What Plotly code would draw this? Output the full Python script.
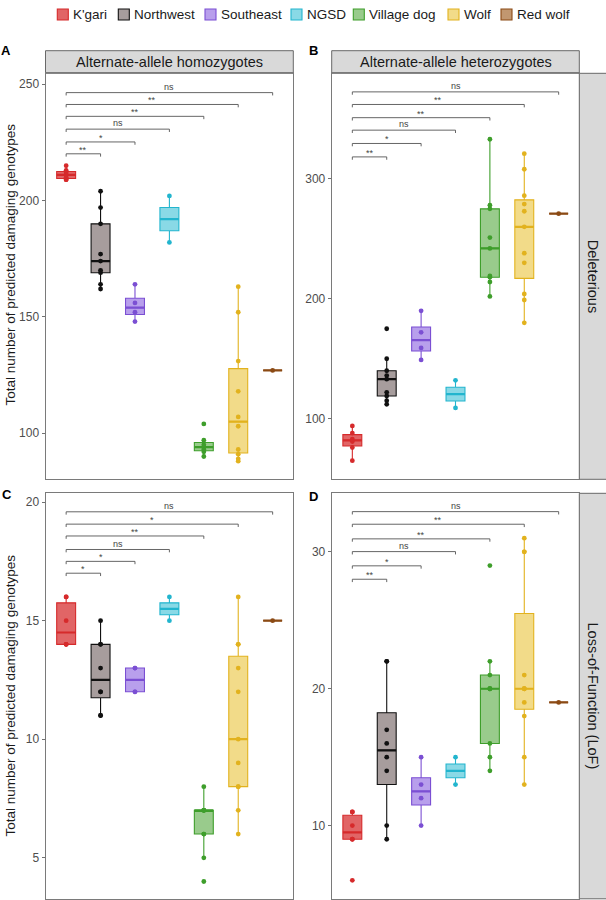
import numpy as np
import plotly.graph_objects as go

# ---------------- data ----------------
groups = ["K'gari", "Northwest", "Southeast", "NGSD", "Village dog", "Wolf", "Red wolf"]

# Panel A: alternate-allele homozygotes, deleterious
hom_del_kgari = [209, 209, 210, 211, 212, 213, 215]
hom_del_northwest = [162, 164, 169, 170, 174, 177, 190, 197, 204]
hom_del_southeast = [148, 152, 156, 164]
hom_del_ngsd = [182, 202]
hom_del_village = [90, 92, 93, 94, 95, 97, 104]
hom_del_wolf = [88, 89, 91, 93, 103, 107, 118, 131, 152, 163]
hom_del_redwolf = [127]

# Panel B: alternate-allele heterozygotes, deleterious
het_del_kgari = [65, 76, 81, 83, 88, 94]
het_del_northwest = [112, 115, 119, 122, 133, 136, 140, 150, 175]
het_del_southeast = [149, 159, 172, 190]
het_del_ngsd = [109, 132]
het_del_village = [202, 214, 218, 219, 242, 251, 275, 278, 333]
het_del_wolf = [180, 199, 204, 230, 238, 260, 273, 279, 286, 308, 321]
het_del_redwolf = [271]

# Panel C: alternate-allele homozygotes, LoF
hom_lof_kgari = [14, 14, 14, 15, 16, 16]
hom_lof_northwest = [11, 11, 12, 12, 13, 14, 14, 15]
hom_lof_southeast = [12, 12, 13, 13]
hom_lof_ngsd = [15, 16]
hom_lof_village = [4, 5, 6, 6, 7, 7, 7, 7, 8]
hom_lof_wolf = [6, 7, 8, 8, 9, 10, 12, 13, 14, 14, 16]
hom_lof_redwolf = [15]

# Panel D: alternate-allele heterozygotes, LoF
het_lof_kgari = [6, 9, 9, 10, 11, 11]
het_lof_northwest = [9, 10, 14, 15, 16, 17, 22, 22]
het_lof_southeast = [10, 12, 13, 15]
het_lof_ngsd = [13, 15]
het_lof_village = [14, 15, 16, 20, 20, 20, 21, 22, 29]
het_lof_wolf = [13, 15, 18, 19, 20, 20, 20, 21, 30, 30, 31]
het_lof_redwolf = [19]

# significance brackets (K'gari vs each other group)
sig_labels_A = ["**", "*", "ns", "**", "**", "ns"]
sig_labels_B = ["**", "*", "ns", "**", "**", "ns"]
sig_labels_C = ["*", "*", "ns", "**", "*", "ns"]
sig_labels_D = ["**", "*", "ns", "**", "**", "ns"]
bracket_y_A = [220.1, 225.2, 230.7, 236.2, 241.3, 246.4]
bracket_y_B = [318.3, 329.5, 340.6, 351.0, 362.0, 372.5]
bracket_y_C = [17.0, 17.5, 18.0, 18.57, 19.07, 19.59]
bracket_y_D = [28.0, 28.98, 30.02, 30.95, 32.02, 32.94]

col_strip_labels = ["Alternate-allele homozygotes", "Alternate-allele heterozygotes"]
row_strip_labels = ["Deleterious", "Loss-of-Function (LoF)"]
y_title = "Total number of predicted damaging genotypes"
panel_letters = ["A", "B", "C", "D"]

ticks_A = [100, 150, 200, 250]
ticks_B = [100, 200, 300]
ticks_C = [5, 10, 15, 20]
ticks_D = [10, 20, 30]

# ---------------- styles ----------------
line_colors = ["#D62A2B", "#111111", "#7B4FD3", "#22B5CE", "#3E9E2B", "#E2B21E", "#8B4A14"]
fill_colors = ["rgba(214,42,43,0.72)", "rgba(125,110,110,0.68)", "rgba(140,100,225,0.62)",
               "rgba(40,185,210,0.55)", "rgba(70,160,45,0.55)", "rgba(232,190,40,0.55)",
               "rgba(160,95,35,0.65)"]
FONT = "Liberation Sans, Arial, sans-serif"
W, H = 606, 900

panels = [
    dict(data=[hom_del_kgari, hom_del_northwest, hom_del_southeast, hom_del_ngsd, hom_del_village, hom_del_wolf, hom_del_redwolf],
         yr=[80.2, 254.7], ticks=ticks_A, br=bracket_y_A, lab=sig_labels_A),
    dict(data=[het_del_kgari, het_del_northwest, het_del_southeast, het_del_ngsd, het_del_village, het_del_wolf, het_del_redwolf],
         yr=[49.5, 388.0], ticks=ticks_B, br=bracket_y_B, lab=sig_labels_B),
    dict(data=[hom_lof_kgari, hom_lof_northwest, hom_lof_southeast, hom_lof_ngsd, hom_lof_village, hom_lof_wolf, hom_lof_redwolf],
         yr=[3.27, 20.37], ticks=ticks_C, br=bracket_y_C, lab=sig_labels_C),
    dict(data=[het_lof_kgari, het_lof_northwest, het_lof_southeast, het_lof_ngsd, het_lof_village, het_lof_wolf, het_lof_redwolf],
         yr=[4.65, 34.28], ticks=ticks_D, br=bracket_y_D, lab=sig_labels_D),
]

xL = [45.5 / W, 293.3 / W]
xR = [331.7 / W, 579.3 / W]
yT = [1 - 479.3 / H, 1 - 73.3 / H]
yB = [1 - 898.8 / H, 1 - 493.3 / H]
domains = [(xL, yT), (xR, yT), (xL, yB), (xR, yB)]

BOXW = 0.55

fig = go.Figure()
layout = dict(width=W, height=H, margin=dict(l=0, r=0, t=0, b=0),
              paper_bgcolor="white", plot_bgcolor="white", showlegend=False,
              font=dict(family=FONT, color="#1a1a1a"))
shapes = []
annotations = []


def ann(**kw):
    kw.setdefault("showarrow", False)
    kw.setdefault("xanchor", "center")
    kw.setdefault("yanchor", "middle")
    annotations.append(kw)


for p_i, p in enumerate(panels):
    sfx = "" if p_i == 0 else str(p_i + 1)
    xa, ya = "x" + sfx, "y" + sfx
    dx, dy = domains[p_i]
    span = p["yr"][1] - p["yr"][0]
    layout["xaxis" + sfx] = dict(domain=dx, anchor=ya, range=[-0.6, 6.6], showticklabels=False,
                                 ticks="", showgrid=False, zeroline=False, showline=True, mirror=True,
                                 linecolor="#7a7a7a", linewidth=1)
    layout["yaxis" + sfx] = dict(domain=dy, anchor=xa, range=p["yr"], tickvals=p["ticks"],
                                 ticks="outside", ticklen=3, tickcolor="#4d4d4d", tickwidth=0.8,
                                 tickfont=dict(size=12, color="#4d4d4d", family=FONT),
                                 showgrid=False, zeroline=False, showline=True, mirror=True,
                                 linecolor="#7a7a7a", linewidth=1)
    for g_i, vals in enumerate(p["data"]):
        v = np.array(vals, dtype=float)
        q1, med, q3 = np.percentile(v, [25, 50, 75])
        iqr = q3 - q1
        lo = v[v >= q1 - 1.5 * iqr].min()
        hi = v[v <= q3 + 1.5 * iqr].max()
        fig.add_trace(go.Box(x=[g_i], q1=[q1], median=[med], q3=[q3], lowerfence=[lo], upperfence=[hi],
                             width=BOXW, whiskerwidth=0, boxpoints=False,
                             fillcolor=fill_colors[g_i], line=dict(color=line_colors[g_i], width=1.1),
                             xaxis=xa, yaxis=ya, name=groups[g_i], hoverinfo="skip"))
        fig.add_trace(go.Scatter(x=[g_i - BOXW / 2, g_i + BOXW / 2], y=[med, med], mode="lines",
                                 line=dict(color=line_colors[g_i], width=2.2), xaxis=xa, yaxis=ya,
                                 hoverinfo="skip"))
        fig.add_trace(go.Scatter(x=[g_i] * len(v), y=v, mode="markers",
                                 marker=dict(color=line_colors[g_i], size=4.8), xaxis=xa, yaxis=ya,
                                 hoverinfo="skip"))
    tip = 0.007 * span
    for j, (by, lab) in enumerate(zip(p["br"], p["lab"]), start=1):
        fig.add_trace(go.Scatter(x=[0, 0, j, j], y=[by - tip, by, by, by - tip], mode="lines",
                                 line=dict(color="#555555", width=0.9), xaxis=xa, yaxis=ya,
                                 hoverinfo="skip"))
        ann(x=j / 2, y=by, xref=xa, yref=ya, text=lab, yanchor="bottom",
            yshift=-1 if lab == "ns" else -3,
            font=dict(size=9, color="#444444", family=FONT))

# column strips (top)
for dx, lab in zip([xL, xR], col_strip_labels):
    shapes.append(dict(type="rect", xref="paper", yref="paper", x0=dx[0], x1=dx[1],
                       y0=1 - 73.3 / H, y1=1 - 50.7 / H, fillcolor="#d9d9d9",
                       line=dict(color="#5a5a5a", width=0.9), layer="below"))
    ann(x=(dx[0] + dx[1]) / 2, y=1 - 62 / H, xref="paper", yref="paper",
        text=lab, font=dict(size=14.5, color="#1a1a1a", family=FONT))
# row strips (right)
for dy, lab in zip([yT, yB], row_strip_labels):
    shapes.append(dict(type="rect", xref="paper", yref="paper", x0=579.3 / W, x1=1.0 + 2 / W,
                       y0=dy[0], y1=dy[1], fillcolor="#d9d9d9",
                       line=dict(color="#5a5a5a", width=0.9), layer="below"))
    ann(x=592.5 / W, y=(dy[0] + dy[1]) / 2, xref="paper", yref="paper",
        text=lab, textangle=90, font=dict(size=14.5, color="#1a1a1a", family=FONT))

# y titles
for cy in [265, 696]:
    ann(x=9.5 / W, y=1 - cy / H, xref="paper", yref="paper", text=y_title, textangle=-90,
        font=dict(size=13.5, color="#1a1a1a", family=FONT))

# panel letters
letter_pos = [(6, 50), (313, 50), (7, 494), (313, 496)]
for (lx, ly), t in zip(letter_pos, panel_letters):
    ann(x=lx / W, y=1 - ly / H, xref="paper", yref="paper", text="<b>%s</b>" % t,
        font=dict(size=13, color="#000000", family=FONT))

# legend (manual, top centre)
legend_x_px = [57.3, 118.3, 205, 291, 353.3, 448, 501]
for g_i, (lx, name) in enumerate(zip(legend_x_px, groups)):
    shapes.append(dict(type="rect", xref="paper", yref="paper", x0=lx / W, x1=(lx + 11) / W,
                       y0=1 - 20 / H, y1=1 - 9 / H, fillcolor=fill_colors[g_i],
                       line=dict(color=line_colors[g_i], width=1.1)))
    ann(x=(lx + 13.5) / W, y=1 - 14.5 / H, xref="paper", yref="paper", text=name,
        xanchor="left", font=dict(size=13.5, color="#1a1a1a", family=FONT))

layout["shapes"] = shapes
layout["annotations"] = annotations
fig.update_layout(**layout)
fig.write_html("out.html", config={"displayModeBar": False, "staticPlot": True},
               post_script="document.body.style.margin='0px';document.body.style.padding='0px';")
